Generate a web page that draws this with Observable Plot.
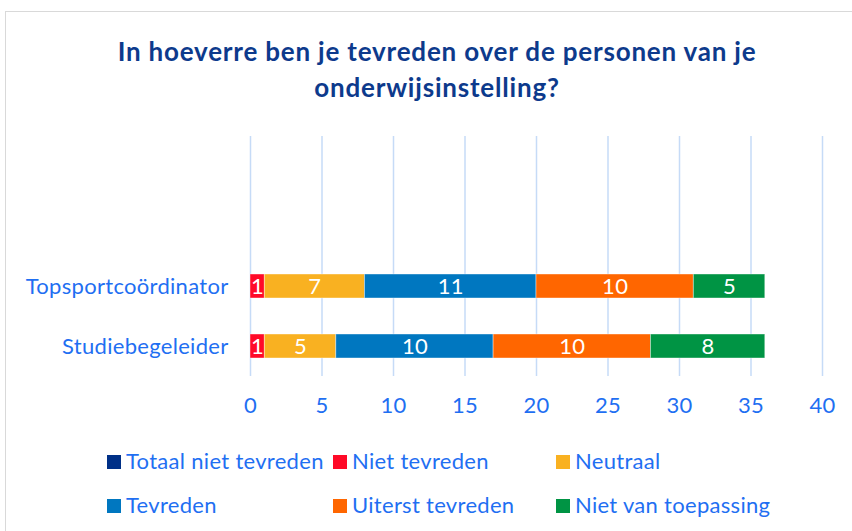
<!DOCTYPE html>
<html>
<head>
<meta charset="utf-8">
<script src="https://cdn.jsdelivr.net/npm/d3@7"></script>
<script src="https://cdn.jsdelivr.net/npm/@observablehq/plot@0.6"></script>
<style>
  html, body { margin: 0; padding: 0; background: #fff; overflow: hidden; width: 852px; height: 531px; }
  #frame { position: absolute; left: 5px; top: 11px; width: 900px; height: 600px; border: 1.5px solid #d9d9d9; box-sizing: border-box; }
  #title { position: absolute; left: 0; top: 33px; width: 874px; text-align: center; font-family: Lato, sans-serif; font-weight: 700; font-size: 26px; letter-spacing: 0.8px; line-height: 36px; color: #0d3a8c; }
  #chart { position: absolute; left: 0; top: 0; }
  #chart svg text { letter-spacing: 0.3px; }
  .leg { position: absolute; font-family: Lato, sans-serif; font-size: 22px; letter-spacing: 0.3px; color: #1f6ff2; white-space: nowrap; line-height: 24px; }
  .leg span.sw { display: inline-block; width: 14px; height: 14px; margin-right: 5px; vertical-align: 0px; }
</style>
</head>
<body>
<div id="frame"></div>
<div id="title">In hoeverre ben je tevreden over de personen van je<br>onderwijsinstelling?</div>
<div id="chart"></div>
<div id="legend"></div>
<script>
const categories = ["Topsportcoördinator", "Studiebegeleider"];
const series = ["Totaal niet tevreden", "Niet tevreden", "Neutraal", "Tevreden", "Uiterst tevreden", "Niet van toepassing"];
const colors = ["#003087", "#ff0a28", "#f9b121", "#0077c0", "#ff6600", "#009444"];
// bar lengths as drawn
const topsportValues = [0, 1, 7, 12, 11, 5];
const studieValues = [0, 1, 5, 11, 11, 8];
// data labels as printed on the bars
const topsportLabels = ["", "1", "7", "11", "10", "5"];
const studieLabels = ["", "1", "5", "10", "10", "8"];
const xTicks = [0, 5, 10, 15, 20, 25, 30, 35, 40];

const rows = [];
[[categories[0], topsportValues, topsportLabels], [categories[1], studieValues, studieLabels]].forEach(([cat, vals, labs]) => {
  series.forEach((s, i) => rows.push({cat, series: s, value: vals[i], label: labs[i]}));
});

const yDomain = ["", " ", ...categories];

const chart = Plot.plot({
  width: 852,
  height: 440,
  marginLeft: 250,
  marginRight: 30,
  marginTop: 136,
  marginBottom: 64,
  style: {fontFamily: "Lato, sans-serif", fontSize: "22px", color: "#1f6ff2", background: "transparent", overflow: "visible"},
  x: {domain: [0, 40], label: null},
  y: {domain: yDomain, paddingInner: 0.6, paddingOuter: 0.3, label: null},
  color: {domain: series, range: colors},
  marks: [
    Plot.ruleX(xTicks, {stroke: "#c6dbf7", strokeWidth: 1.5}),
    Plot.barX(rows, Plot.stackX({x: "value", y: "cat", fill: "series", order: series, stroke: "#ffffff", strokeOpacity: 0.5, strokeWidth: 0.8})),
    Plot.text(rows.filter(d => d.value > 0), Plot.stackX({x: "value", y: "cat", z: "series", order: series, text: "label", fill: "white", fontSize: 22})),
    Plot.axisY({tickSize: 0, tickPadding: 22, fontSize: 22, label: null}),
    Plot.axisX({ticks: xTicks, tickSize: 0, tickPadding: 21, fontSize: 22, label: null})
  ]
});
document.getElementById("chart").appendChild(chart);

const legendPos = [[107, 449], [333, 449], [556, 449], [107, 493], [333, 493], [556, 493]];
const legend = document.getElementById("legend");
series.forEach((s, i) => {
  const d = document.createElement("div");
  d.className = "leg";
  d.style.left = legendPos[i][0] + "px";
  d.style.top = legendPos[i][1] + "px";
  d.innerHTML = `<span class="sw" style="background:${colors[i]}"></span>${s}`;
  legend.appendChild(d);
});
</script>
</body>
</html>
